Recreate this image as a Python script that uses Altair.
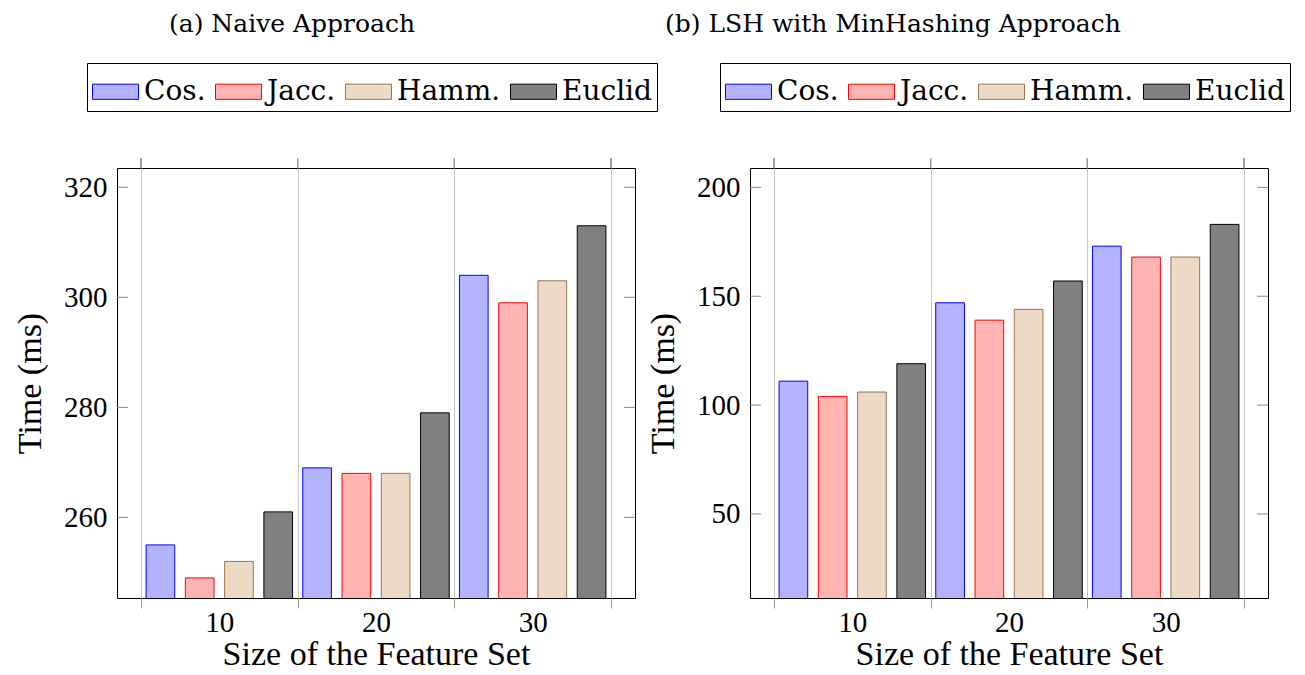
import altair as alt
import pandas as pd

sizes = ["10", "20", "30"]
methods = ["Cos.", "Jacc.", "Hamm.", "Euclid"]

naive_cos = [255, 269, 304]
naive_jacc = [249, 268, 299]
naive_hamm = [252, 268, 303]
naive_euclid = [261, 279, 313]

lsh_cos = [111, 147, 173]
lsh_jacc = [104, 139, 168]
lsh_hamm = [106, 144, 168]
lsh_euclid = [119, 157, 183]

naive_ticks = [260, 280, 300, 320]
lsh_ticks = [50, 100, 150, 200]

fills = ["#b3b3ff", "#ffb3b3", "#ecd9c6", "#808080"]
strokes = ["#0000ff", "#ff0000", "#9c7449", "#000000"]

W, H = 518, 430
AXIS_FONT = "Liberation Serif"
LEG_FONT = "DejaVu Serif"


def make_df(series):
    rows = []
    for m, vals in zip(methods, series):
        for s, v in zip(sizes, vals):
            rows.append({"size": s, "method": m, "time": v})
    return pd.DataFrame(rows)


def panel(series, ydomain, yticks, title, title_dx):
    df = make_df(series)
    xaxis = alt.Axis(
        title="Size of the Feature Set", tickBand="extent", grid=True,
        gridColor="#c8c8c8", gridWidth=1, ticks=True, tickSize=10,
        tickColor="#999999", domain=False, labelAngle=0,
        labelFont=AXIS_FONT, labelFontSize=29, labelColor="black",
        labelPadding=0, titleFont=AXIS_FONT, titleFontSize=34,
        titleFontWeight="normal", titleColor="black", titlePadding=0,
    )
    xenc = alt.X("size:N", sort=sizes,
                 scale=alt.Scale(paddingInner=0, paddingOuter=0.153),
                 axis=xaxis)
    yscale = alt.Scale(domain=ydomain, nice=False, zero=False)
    yaxis = alt.Axis(
        values=yticks, ticks=False, domain=False, grid=False,
        title="Time (ms)", labelFont=AXIS_FONT, labelFontSize=29,
        labelColor="black", labelPadding=10, titleFont=AXIS_FONT,
        titleFontSize=34, titleFontWeight="normal", titleColor="black",
        titlePadding=16,
    )
    legend = alt.Legend(
        title=None, orient="none", legendX=-30, legendY=-105,
        direction="horizontal", symbolType="M-1,-0.33L1,-0.33L1,0.33L-1,0.33Z",
        symbolSize=2116, symbolStrokeWidth=1, symbolOpacity=1,
        labelFont=LEG_FONT, labelFontSize=28, labelColor="black",
        labelOffset=5, columnPadding=7, padding=5, strokeColor="black",
        fillColor="white",
    )
    bars = alt.Chart(df).mark_bar(strokeWidth=1, clip=True, opacity=1).encode(
        x=xenc,
        xOffset=alt.XOffset("method:N", sort=methods,
                            scale=alt.Scale(paddingInner=0.27, paddingOuter=0.13)),
        y=alt.Y("time:Q", scale=yscale, axis=yaxis),
        fill=alt.Fill("method:N", sort=methods,
                      scale=alt.Scale(domain=methods, range=fills), legend=legend),
        stroke=alt.Stroke("method:N", sort=methods,
                          scale=alt.Scale(domain=methods, range=strokes), legend=legend),
    )
    # outer tick marks on top edge at band boundaries
    top_a = alt.Chart(df).mark_rule(color="#999999", strokeWidth=1).encode(
        x=alt.X("size:N", sort=sizes, bandPosition=0),
        y=alt.value(-10), y2=alt.value(0),
    )
    top_b = alt.Chart(df).transform_filter(alt.datum.size == sizes[-1]).mark_rule(
        color="#999999", strokeWidth=1).encode(
        x=alt.X("size:N", sort=sizes, bandPosition=1),
        y=alt.value(-10), y2=alt.value(0),
    )
    tdf = pd.DataFrame({"time": yticks})
    ytl = alt.Chart(tdf).mark_rule(color="#888888", strokeWidth=1).encode(
        y=alt.Y("time:Q", scale=yscale), x=alt.value(0), x2=alt.value(11))
    ytr = alt.Chart(tdf).mark_rule(color="#888888", strokeWidth=1).encode(
        y=alt.Y("time:Q", scale=yscale), x=alt.value(W - 11), x2=alt.value(W))
    return alt.layer(bars, top_a, top_b, ytl, ytr).properties(
        width=W, height=H,
        title=alt.TitleParams(title, anchor="start", frame="group", dx=title_dx,
                              font=LEG_FONT, fontSize=25, fontWeight="normal",
                              color="black", offset=26),
    )


left = panel([naive_cos, naive_jacc, naive_hamm, naive_euclid],
             [245.35, 323.5], naive_ticks, "(a) Naive Approach", 52)
right = panel([lsh_cos, lsh_jacc, lsh_hamm, lsh_euclid],
              [11.4, 208.9], lsh_ticks, "(b) LSH with MinHashing Approach", -85)

chart = alt.hconcat(left, right, spacing=115, bounds="flush").resolve_scale(
    fill="independent", stroke="independent", y="independent", x="independent"
).resolve_legend(fill="independent", stroke="independent").configure_view(
    stroke="black", strokeWidth=1
).properties(padding={"left": 5, "top": 3, "right": 5, "bottom": 0})

chart.save("out.html", embed_options={"renderer": "svg", "actions": False})
